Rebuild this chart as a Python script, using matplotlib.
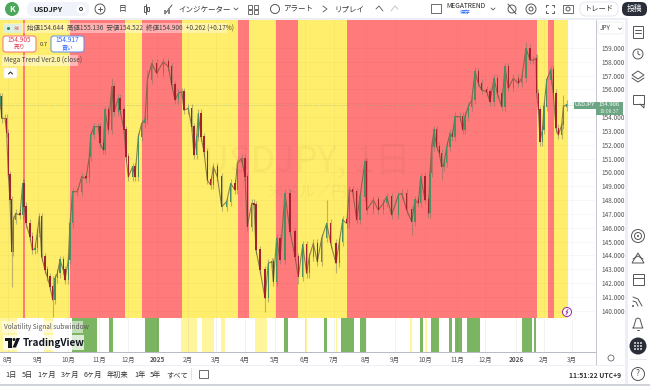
import matplotlib
matplotlib.use("Agg")
import matplotlib.pyplot as plt
from matplotlib.patches import Rectangle, FancyBboxPatch, Circle, Polygon

plt.rcParams['font.family'] = ['Noto Sans CJK JP', 'DejaVu Sans']

# ---------- data ----------
bar_x = [0,1.7,5,6.7,8.3,10,11.7,13.3,15.7,20,22.7,24,26,30,32.3,35,37.3,39.3,41.7,45,47.3,50,52.7,55,57.3,60,63.3,65,68.3,70,
 72.7,77.3,81.7,86,89.3,90.7,94,98.3,100,103.3,105,108.3,111.7,114,118.3,120,124,126,128.3,132.7,135,138.3,141.7,145,147.3,151.7,156.7,163.3,168.3,171.7,
 175,178.3,181.7,184,188.3,191.7,194,196.7,198.3,201,204,207.3,210.7,213.3,217.3,221.7,226.7,230.7,235,237.3,241.7,245,247.3,251.7,254,256,260,265,268.3,271.7,
 273.3,276.7,280,285,290,295,298.3,302.7,306.7,309.3,313.3,317.3,321.7,326.7,330.7,336,339.3,342.7,346.7,349.3,352.7,356.7,360,365,366.7,373.3,378.3,383.3,386.7,391.7,
 398.3,401.7,406.7,411.7,415,418.3,420.7,425,428.3,430,431.7,434,436.7,439.3,441.7,444,446.7,450,452.3,455,460,462.7,465,468.3,471.7,475,478.3,481.7,486.7,490,
 494,497.3,501.7,505,508.3,513.3,518.3,521.7,526,530,533.3,536,536.7,538.3,540,542.3,544,546.7,550.7,553.3,556,558.3,561.7,563.3,566.7]
closes = [155.48,153.91,153.91,152.83,149.82,148.01,144.27,146.56,147.04,146.92,149.21,147.53,146.32,145.36,144.39,144.51,145.6,146.8,143.91,142.95,142.46,141.74,140.78,142.34,142.7,143.67,142.95,142.22,143.67,146.32,
 148.61,148.61,149.69,149.57,151.14,152.71,153.31,153.31,152.1,151.62,154.51,153.07,156.2,154.39,155.36,154.51,153.07,151.14,149.69,150.42,149.69,152.59,153.55,153.79,156.68,157.89,157.17,158.01,157.65,156.32,
 155.24,155.72,155.84,154.51,154.64,153.31,151.26,152.59,154.27,152.59,151.5,149.45,149.09,150.42,149.69,147.53,147.89,149.21,148.73,150.66,151.02,149.69,146.08,147.77,147.65,144.39,142.95,140.9,143.43,143.55,
 142.1,145.24,143.67,148.49,145.72,143.91,142.46,144.75,142.7,143.91,144.87,143.55,145.24,146.32,144.87,143.43,144.99,146.56,146.32,148.73,148.61,146.56,148.25,150.78,147.28,148.01,147.28,147.77,148.25,146.92,
 148.37,148.49,147.28,146.44,148.01,147.77,149.69,148.01,147.04,149.94,151.87,153.07,151.87,151.39,150.42,150.66,151.87,152.83,152.59,154.04,154.04,153.07,154.04,154.76,155.24,157.29,156.45,155.96,155.84,155.12,
 156.81,155.72,154.76,157.65,156.09,156.81,156.45,156.81,158.98,158.13,158.13,158.25,155.72,154.52,152.23,153.07,154.76,156.69,157.41,155.72,153.19,152.71,153.43,154.76,154.906]
wick_bar = [11.7,52.7,111.7,147.3,163.3,265,285,298.3,326.7,336,411.7,430,441.7,475,526,540,563.3]
wick_high = [146.8,142.5,156.8,157.4,158.3,142.0,148.7,143.3,148.0,144.5,147.0,150.3,151.0,157.6,159.46,153.2,155.6]
wick_low = [141.74,139.57,155.5,155.8,157.3,139.93,146.5,141.9,145.6,142.7,145.48,149.1,149.46,156.4,157.9,152.0,154.0]
current_price = 154.906

zone_edges = [0,23,25,70,125,142,182,238,249,276,298,347,537,548,554,568]
zone_kind = ['y','r','y','r','y','r','y','r','y','r','y','r','y','r','y']

green_spans = [(72,97),(109,113),(145,159),(284,288),(324,327),(341,354),(360,366),(420,423),(431,439),(449,452),(455,462),(467,480),(522,532),(534,536)]
yellow_spans = [(0,17),(44,53),(181,197),(202,214),(221,225),(255,267),(305,306.5),(336,337),(410,412),(426,427)]

price_ticks = list(range(140, 160))
price_labels = ['' if p == 155 else f'{p}.000' for p in price_ticks]
month_pos = [8,38,68,99,128,157,188,216,245,275,305,334,366,395,425,457,485,516,544,572]
month_lbl = ['8月','9月','10月','11月','12月','2025','2月','3月','4月','5月','6月','7月','8月','9月','10月','11月','12月','2026','2月','3月']
range_pos = [11,27,47,70,93,118,140,155,177]
range_lbl = ['1日','5日','1ヶ月','3ヶ月','6ヶ月','年初来','1年','5年','すべて']

# ---------- figure ----------
W, H = 650, 386
fig = plt.figure(figsize=(W/100, H/100), dpi=100, facecolor='white')
def rect(x0, y0, x1, y1):
    return [x0/W, 1-y1/H, (x1-x0)/W, (y1-y0)/H]

ax = fig.add_axes(rect(0, 20, 596, 318))
sub = fig.add_axes(rect(0, 318, 596, 352))
ov = fig.add_axes([0, 0, 1, 1], zorder=10)
ov.set_xlim(0, W); ov.set_ylim(H, 0); ov.axis('off'); ov.patch.set_alpha(0)

ZC = {'y': '#FFEE6B', 'r': '#FF7B7B'}
for i, k in enumerate(zone_kind):
    ax.axvspan(zone_edges[i], zone_edges[i+1], color=ZC[k], lw=0)
ax.set_xlim(0, 596)
ax.set_ylim(159-270/13.83, 159+28/13.83)
ax.set_axisbelow('line')
ax.set_yticks(price_ticks)
ax.set_yticklabels(price_labels)
ax.yaxis.tick_right()
ax.tick_params(axis='y', length=0, pad=4, labelsize=4.6, labelcolor='#555555')
ax.set_xticks(month_pos); ax.tick_params(axis='x', length=0, labelbottom=False)
ax.grid(True, color='#000000', alpha=0.03, lw=0.6)
for s in ax.spines.values():
    s.set_visible(False)

# watermark
ax.text(307, 161, 'USDJPY, 1日', transform=ov.transData, ha='center', va='center', fontsize=26, color='#000000', alpha=0.03)
ax.text(307, 192, '米ドル／円', transform=ov.transData, ha='center', va='center', fontsize=11.5, color='#000000', alpha=0.04)

# candles
opens = [154.9] + closes[:-1]
ups = [c >= o for o, c in zip(opens, closes)]
hi = [max(o, c) + 0.3 for o, c in zip(opens, closes)]
lo = [min(o, c) - 0.3 for o, c in zip(opens, closes)]
for b, h, l in zip(wick_bar, wick_high, wick_low):
    i = bar_x.index(b)
    hi[i] = max(hi[i], h); lo[i] = min(lo[i], l)
ax.vlines(bar_x, lo, hi, color='#77775f', alpha=0.5, lw=0.8, zorder=2.4)
ax.plot(bar_x[:128], closes[:128], color='#6d5a3c', lw=0.8, alpha=0.75, zorder=2.6)
ax.plot(bar_x[128:], closes[128:], color='#6d5a3c', lw=0.8, alpha=0.75, zorder=2.6)
ax.bar(bar_x, [abs(c-o) + 0.05 for o, c in zip(opens, closes)], bottom=[min(o, c) for o, c in zip(opens, closes)],
       width=1.5, color=['#4a8f62' if u else '#a3202c' for u in ups], lw=0, zorder=3)
ax.axhline(current_price, color='#6ba583', lw=0.5, alpha=0.7, ls=(0, (1, 1.5)), zorder=2)

# sub window
sub.set_xlim(0, 596); sub.set_ylim(0, 1)
for a, b in green_spans:
    sub.axvspan(a, b, color='#7CB562', lw=0)
for a, b in yellow_spans:
    sub.axvspan(a, b, color='#FFF59D', lw=0)
sub.set_axisbelow('line')
sub.set_xticks(month_pos)
sub.set_xticklabels(month_lbl)
sub.set_yticks([])
sub.tick_params(axis='x', length=0, pad=3, labelsize=4.6, labelcolor='#555555')
for t in sub.get_xticklabels():
    if t.get_text() in ('2025', '2026'):
        t.set_fontweight('bold')
sub.grid(True, axis='x', color='#000000', alpha=0.06, lw=0.6)
for s in sub.spines.values():
    s.set_visible(False)

# ---------- chrome helpers ----------
def R(x0, y0, x1, y1, fc='white', ec='none', lw=0, alpha=None, z=1):
    ov.add_patch(Rectangle((x0, y0), x1-x0, y1-y0, fc=fc, ec=ec, lw=lw, alpha=alpha, zorder=z))
def RR(x0, y0, x1, y1, fc='white', ec='none', lw=0.6, r=2, z=2):
    ov.add_patch(FancyBboxPatch((x0+r, y0+r), x1-x0-2*r, y1-y0-2*r, boxstyle=f'round,pad={r}', fc=fc, ec=ec, lw=lw, zorder=z))
def T(x, y, s, size=5.2, c='#333333', ha='left', w='normal', z=5):
    ov.text(x, y, s, fontsize=size, color=c, ha=ha, va='center', fontweight=w, zorder=z)
def C(x, y, r, fc='none', ec='#555555', lw=0.7, z=4):
    ov.add_patch(Circle((x, y), r, fc=fc, ec=ec, lw=lw, zorder=z))
def L(xs, ys, c='#555555', lw=0.7, z=4):
    ov.plot(xs, ys, color=c, lw=lw, zorder=z, solid_capstyle='round')

# panels
R(0, 0, 650, 18)
R(0, 18, 628, 20, fc='#eceff5')
R(0, 352, 596, 353, fc='#b8bcc6')
R(596, 20, 597, 365, fc='#c4c8d0')
R(0, 365, 628, 366, fc='#eceff5')
R(0, 366, 650, 384)
R(0, 384, 650, 386, fc='#d0d3da')
R(625, 18, 628, 384, fc='#eceff5')
R(628, 0, 650, 384)

# top bar
C(12, 9, 7, fc='#4CA75A', ec='none')
T(12, 9, 'K', size=6, c='white', ha='center', w='bold')
RR(27, 2, 89, 16, fc='#f0f3fa', r=6, lw=0)
T(33, 9, 'USDJPY', size=5.4, c='#222222', w='bold')
C(81, 9, 4.5, fc='white', ec='none')
C(81, 9, 1.5, ec='#333333')
C(100, 9, 5, ec='#555555'); L([98, 102], [9, 9]); L([100, 100], [7, 11])
T(123, 9, '日', size=5.6, ha='center')
L([146, 146], [4, 14]); R(144, 6, 146, 12, fc='white', ec='#444444', lw=0.6, z=5); R(147, 7, 149, 11, fc='white', ec='#444444', lw=0.6, z=5)
L([165, 172], [14, 5]); R(164, 10, 166, 14, fc='#888888', z=4); R(168, 8, 170, 14, fc='#888888', z=4)
T(178, 9, 'インジケーター', size=5.4)
L([234, 236, 238], [8, 10, 8], lw=0.6)
for gx, gy in [(248, 5), (254, 5), (248, 10), (254, 10)]:
    R(gx, gy, gx+4, gy+4, fc='white', ec='#555555', lw=0.6, z=4)
C(275, 9, 4.5)
T(283, 9, 'アラート', size=5.4)
L([323, 327, 323], [6, 9, 12], lw=0.6)
T(334, 9, 'リプレイ', size=5.4)
L([376, 379, 383], [9, 6, 11], lw=0.6)
L([398, 395, 391], [9, 6, 11], c='#bbbbbb', lw=0.6)
R(431, 4, 441, 13, fc='white', ec='#555555', lw=0.6, z=4)
T(466, 6.5, 'MEGATREND', size=4.8, c='#222222', ha='center')
T(465, 12.5, '保存', size=3.8, c='#2962ff', ha='center')
L([491, 493, 495], [8, 10, 8], lw=0.6)
C(512, 9, 4); L([508, 516], [4, 14])
C(531, 9, 5); C(531, 9, 2)
for x0, y0, dx, dy in [(546, 5, 1, 1), (554, 5, -1, 1), (546, 13, 1, -1), (554, 13, -1, -1)]:
    L([x0, x0, x0+2*dx], [y0+2*dy, y0, y0])
R(563, 5, 573, 13, fc='white', ec='#555555', lw=0.6, z=4); C(568, 9, 2)
RR(580, 2, 618, 16, fc='white', ec='#e0e3eb', r=6)
T(599, 9, 'トレード', size=5.2, ha='center')
RR(622, 2, 647, 16, fc='#2a2e39', r=6)
T(634.5, 9, '投稿', size=5.6, c='white', ha='center')

# legend block
R(3, 23, 227, 33, fc='white', alpha=0.4, z=2)
RR(3, 24, 22, 33, fc='#dfeee2', r=3, lw=0)
C(8.5, 28.5, 1.5, fc='#1f8a5c', ec='none')
T(16, 28.5, '≋', size=4.5, c='#e2384d', ha='center')
T(27, 28.5, '始値154.644  高値155.136  安値154.522  終値154.906  +0.262 (+0.17%)', size=4.7, c='#444444')
RR(3, 36, 36, 52, fc='white', ec='#f0707c', lw=0.7, r=2.5)
T(19.5, 40.5, '154.905', size=4.7, c='#e2384d', ha='center')
T(19.5, 47.5, '売り', size=4.2, c='#e2384d', ha='center')
T(43.5, 44, '0.7', size=4.2, c='#333333', ha='center')
RR(51, 36, 84, 52, fc='white', ec='#5b8def', lw=0.7, r=2.5)
T(67.5, 40.5, '154.917', size=4.7, c='#2962ff', ha='center')
T(67.5, 47.5, '買い', size=4.2, c='#2962ff', ha='center')
R(2, 55, 78, 66, fc='white', alpha=0.45, z=2)
T(4, 60.5, 'Mega Trend Ver2.0 (close)', size=4.7, c='#444444')
RR(4, 68, 17, 78, fc='white', ec='#eeeeee', r=1.5)
L([8.5, 10.5, 12.5], [74, 72, 74], c='#333333', lw=0.8)

# sub legend + logo
R(2, 321, 83, 333, fc='white', alpha=0.55, z=2)
T(4, 327, 'Volatility Signal subwindow', size=4.7, c='#555555')
R(3, 335, 84, 350, fc='white', alpha=0.75, z=2)
R(5, 338, 11.5, 341, fc='#131722', z=4); R(8, 338, 11.5, 347.5, fc='#131722', z=4)
C(14, 339.5, 1.5, fc='#131722', ec='none')
ov.add_patch(Polygon([(16.5, 338), (20, 338), (16, 347.5), (12.5, 347.5)], fc='#131722', ec='none', zorder=4))
T(23, 342.5, 'TradingView', size=7.2, c='#131722', w='bold')

# right axis bits
RR(598, 22, 623, 34, fc='white', ec='#eeeeee', r=1.5)
T(600, 28.5, 'JPY', size=4.6, c='#444444')
L([618.5, 620, 621.5], [28, 29.5, 28], lw=0.5)
R(574, 102, 596, 108.5, fc='#6ba583', z=3)
T(585, 105, 'USDJPY', size=4, c='white', ha='center')
R(596, 102, 623, 115, fc='#6ba583', z=3)
T(609.5, 105, '154.906', size=4.2, c='white', ha='center')
T(609.5, 111.5, '19:08:37', size=3.6, c='#e4f0e8', ha='center')
C(567, 312, 4.5, fc='white', ec='#9c27b0', lw=0.7)
L([568, 566, 568, 566], [309.5, 312, 312, 314.5], c='#9c27b0', lw=0.6)
C(611, 358, 3, ec='#666666', lw=0.6)

# right sidebar
R(633, 26, 643, 38, fc='white', ec='#555555', lw=0.7, z=4); L([635, 641], [30, 30]); L([635, 641], [33, 33])
C(638, 54, 5); L([638, 638, 640], [51, 54, 55])
ov.add_patch(Polygon([(638, 71), (644, 75), (638, 79), (632, 75)], fc='white', ec='#555555', lw=0.7, zorder=4))
L([632, 638, 644], [78, 82, 78])
R(633, 95, 644, 104, fc='white', ec='#555555', lw=0.7, z=4); L([640, 644, 644], [104, 108, 104])
C(638, 236, 6.5); C(638, 236, 3.5); C(638, 236, 1, fc='#555555', ec='none')
ov.add_patch(Polygon([(638, 253), (644, 263), (632, 263)], fc='white', ec='#555555', lw=0.7, zorder=4))
L([633, 638, 643], [259, 256, 259])
R(633, 274, 644, 285, fc='white', ec='#555555', lw=0.7, z=4); L([633, 644], [277.5, 277.5])
C(633, 306, 1, fc='#555555', ec='none')
L([633, 636, 638], [301, 302, 306]); L([633, 638, 642], [297, 299, 306])
L([633, 634, 636, 638, 640, 642, 643, 633], [328, 326, 319, 318, 319, 326, 328, 328])
L([637, 639], [330, 330])
C(638, 346, 8.5, fc='#2a2e39', ec='none')
for gx in (635, 638, 641):
    for gy in (343, 346, 349):
        C(gx, gy, 0.9, fc='white', ec='none', z=5)
R(630, 359, 647, 360, fc='#e6e8ee', z=3)
C(638, 374, 6.5)
T(638, 374, '?', size=6, c='#555555', ha='center')

# bottom bar
for x, s in zip(range_pos, range_lbl):
    T(x, 375, s, size=5.2, c='#333333', ha='center')
R(191, 368, 191.6, 380, fc='#e0e3eb', z=3)
R(199, 370, 208, 378, fc='white', ec='#555555', lw=0.6, z=4)
T(621, 375, '11:51:22 UTC+9', size=4.9, c='#333333', ha='right', w='bold')

fig.savefig('out.png', dpi=100)
